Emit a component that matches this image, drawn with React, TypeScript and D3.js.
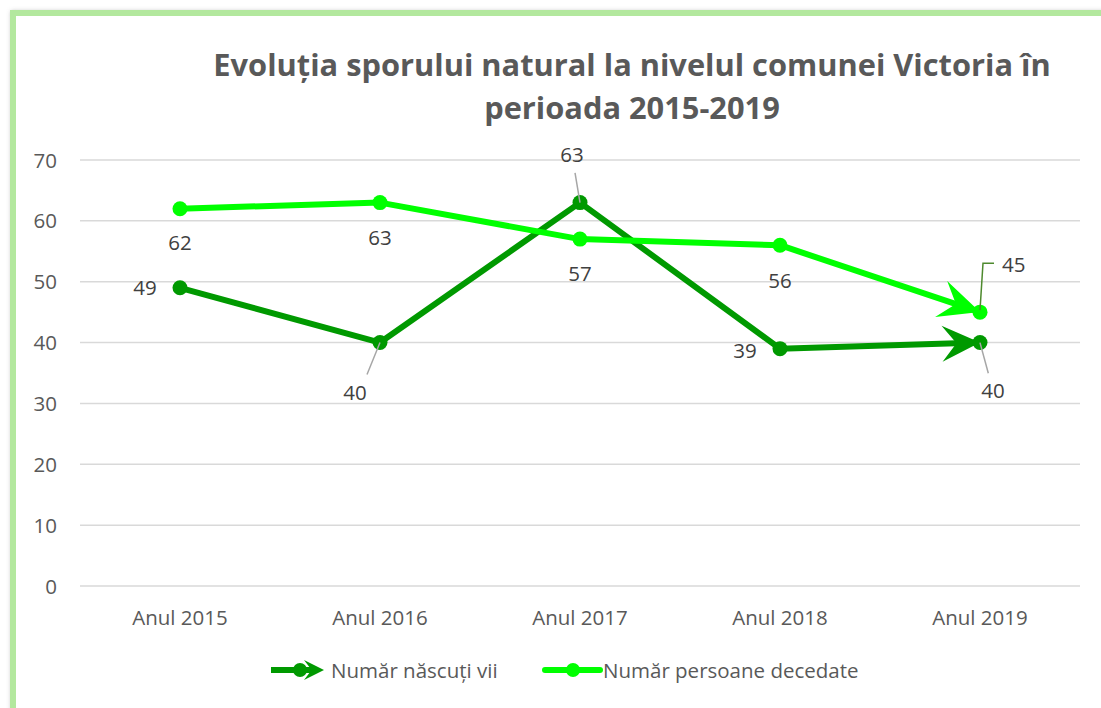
import React from "react";
import * as d3 from "d3";

const categories = ["Anul 2015", "Anul 2016", "Anul 2017", "Anul 2018", "Anul 2019"];
const nascuti = [49, 40, 63, 39, 40];
const decedate = [62, 63, 57, 56, 45];
const yTicks = [0, 10, 20, 30, 40, 50, 60, 70];
const titleLines = ["Evoluția sporului natural la nivelul comunei Victoria în", "perioada 2015-2019"];
const seriesNames = ["Număr născuți vii", "Număr persoane decedate"];

// label offsets from point (label centre): [dx, dy, leader?]
const nascutiLabels: [number, number, boolean][] = [
  [-35, 0, false],
  [-25, 50, true],
  [-8, -48, true],
  [-35, 2, false],
  [13, 48, true],
];
const decedateLabels: [number, number, boolean][] = [
  [0, 34, false],
  [0, 35, false],
  [0, 34, false],
  [0, 35, false],
  [34, -48, true],
];

const DARK = "#009900";
const LIGHT = "#00FF00";
const TEXT = "#595959";
const FONT = "'Open Sans', 'Liberation Sans', sans-serif";
const FS = 20.5;

function arrowHead(x1: number, y1: number, x2: number, y2: number, L: number, H: number) {
  const a = Math.atan2(y2 - y1, x2 - x1);
  const pts: [number, number][] = [
    [0, 0],
    [-L, -H],
    [-L * 0.62, 0],
    [-L, H],
  ];
  return (
    pts
      .map(([u, v]) => [x2 + u * Math.cos(a) - v * Math.sin(a), y2 + u * Math.sin(a) + v * Math.cos(a)])
      .map((p, i) => (i === 0 ? "M" : "L") + p[0].toFixed(1) + "," + p[1].toFixed(1))
      .join("") + "Z"
  );
}

export default function App() {
  const W = 1101, H = 708;
  const x = d3.scaleBand<string>().domain(categories).range([80, 1080]);
  const y = d3.scaleLinear().domain([0, 70]).range([586, 160]);
  const cx = (c: string) => (x(c) as number) + x.bandwidth() / 2;
  const line = d3.line<number>().x((_, i) => cx(categories[i])).y((d) => y(d));

  const series = [
    { data: nascuti, color: DARK, labels: nascutiLabels, L: 38, Hh: 18 },
    { data: decedate, color: LIGHT, labels: decedateLabels, L: 41, Hh: 19 },
  ];

  return (
    <svg width={W} height={H} style={{ position: "absolute", left: 0, top: 0, background: "#fff" }}>
      <defs>
        <filter id="sh" x="-5%" y="-5%" width="110%" height="110%">
          <feDropShadow dx="1" dy="1" stdDeviation="2" floodColor="#888" floodOpacity="0.6" />
        </filter>
      </defs>
      <rect x={13} y={13} width={W + 20} height={H + 20} fill="#fff" stroke="#B3E89E" strokeWidth={6} filter="url(#sh)" />

      {titleLines.map((t, i) => (
        <text key={i} x={632} y={76 + i * 43} textAnchor="middle" fontFamily={FONT} fontWeight="bold" fontSize={30.8} fill={TEXT}>
          {t}
        </text>
      ))}

      {yTicks.map((t) => (
        <g key={t}>
          <line x1={80} x2={1080} y1={y(t)} y2={y(t)} stroke="#D9D9D9" strokeWidth={1.5} />
          <text x={57} y={y(t) + 7.5} textAnchor="end" fontFamily={FONT} fontSize={FS} fill={TEXT}>
            {t}
          </text>
        </g>
      ))}

      {categories.map((c) => (
        <text key={c} x={cx(c)} y={625} textAnchor="middle" fontFamily={FONT} fontSize={FS} fill={TEXT}>
          {c}
        </text>
      ))}

      {series.map((s, si) => {
        const n = s.data.length;
        const xa = cx(categories[n - 2]), ya = y(s.data[n - 2]);
        const xb = cx(categories[n - 1]), yb = y(s.data[n - 1]);
        return (
          <g key={si}>
            <path d={line(s.data) as string} fill="none" stroke={s.color} strokeWidth={6} strokeLinejoin="round" />
            <path d={arrowHead(xa, ya, xb, yb, s.L, s.Hh)} fill={s.color} />
            {s.data.map((v, i) => (
              <circle key={i} cx={cx(categories[i])} cy={y(v)} r={7.5} fill={s.color} />
            ))}
          </g>
        );
      })}

      {series.map((s, si) =>
        s.data.map((v, i) => {
          const px = cx(categories[i]);
          const py = y(v);
          const [dx, dy, leader] = s.labels[i];
          const lx = px + dx;
          const ly = py + dy;
          let leaderEl = null;
          const elbow = si === 1 && leader;
          if (leader) {
            if (elbow) {
              leaderEl = (
                <path d={`M${px},${py - 2}L${px + 3},${ly - 1}L${px + 14},${ly - 1}`} fill="none" stroke="#4E8A2E" strokeWidth={1.5} />
              );
            } else {
              const up = dy < 0;
              const t = up ? 0.62 : 0.64;
              leaderEl = (
                <line x1={px} y1={py} x2={px + dx * t + (up ? 0 : dx > 0 ? 0 : 3)} y2={py + dy * t} stroke="#A6A6A6" strokeWidth={1.5} />
              );
            }
          }
          return (
            <g key={`${si}-${i}`}>
              {leaderEl}
              <text x={elbow ? px + 22 : lx} y={ly + 7.5} textAnchor={elbow ? "start" : "middle"} fontFamily={FONT} fontSize={FS} fill="#404040">
                {v}
              </text>
            </g>
          );
        })
      )}

      {/* legend */}
      <g>
        <line x1={271} x2={316} y1={670} y2={670} stroke={DARK} strokeWidth={6} />
        <path d={arrowHead(271, 670, 324, 670, 20, 10)} fill={DARK} />
        <circle cx={300} cy={670} r={7} fill={DARK} />
        <text x={331} y={678} fontFamily={FONT} fontSize={FS} fill={TEXT}>{seriesNames[0]}</text>
        <line x1={545} x2={600} y1={670} y2={670} stroke={LIGHT} strokeWidth={6} strokeLinecap="round" />
        <circle cx={573} cy={670} r={7} fill={LIGHT} />
        <text x={603} y={678} fontFamily={FONT} fontSize={FS} fill={TEXT}>{seriesNames[1]}</text>
      </g>
    </svg>
  );
}
